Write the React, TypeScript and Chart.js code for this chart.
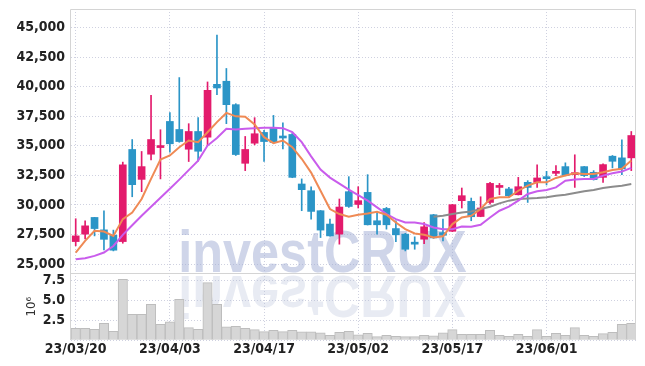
import React, { useEffect, useRef } from 'react';
import { Chart, registerables } from 'chart.js';
Chart.register(...registerables);

const dates = [
  '23/03/20','23/03/21','23/03/22','23/03/23','23/03/24','23/03/27','23/03/28','23/03/29','23/03/30','23/03/31',
  '23/04/03','23/04/04','23/04/05','23/04/06','23/04/07','23/04/10','23/04/11','23/04/12','23/04/13','23/04/14',
  '23/04/17','23/04/18','23/04/19','23/04/20','23/04/21','23/04/24','23/04/25','23/04/26','23/04/27','23/04/28',
  '23/05/02','23/05/03','23/05/04','23/05/08','23/05/09','23/05/10','23/05/11','23/05/12','23/05/15','23/05/16',
  '23/05/17','23/05/18','23/05/19','23/05/22','23/05/23','23/05/24','23/05/25','23/05/26','23/05/30','23/05/31',
  '23/06/01','23/06/02','23/06/05','23/06/07','23/06/08','23/06/09','23/06/12','23/06/13','23/06/14','23/06/15',
];

const opens = [
  26900,27530,28940,27890,27440,26900,34690,32160,34290,34850,
  37060,36380,34710,36210,35730,40200,40460,38480,33520,35220,
  36130,36470,35790,35960,31770,31200,29510,28380,27530,31120,
  30040,31060,28660,29700,28000,27530,26790,27100,29170,27660,
  27770,30360,30300,29020,30210,31480,31350,30860,31910,31910,
  32310,32670,33240,32560,33240,32760,32330,34120,33980,33980,
];
const highs = [
  28830,28660,28950,29500,27870,33620,35530,34520,39270,36360,
  37800,40770,36870,37380,40400,44360,41540,38560,35790,37380,
  36300,37570,36950,36070,32200,31540,29530,28800,30500,32390,
  31540,32560,29450,29790,28660,27600,27300,28510,29200,28800,
  30050,31430,30580,30690,31910,31820,31480,32330,32050,33390,
  32840,33330,33560,34240,33250,32900,33470,34180,35510,36210,
];
const lows = [
  26540,27130,27380,26200,26110,26760,30690,31120,33810,32200,
  34460,35300,33670,33690,35020,39330,36870,34180,32900,35080,
  33670,35240,34740,32300,29510,28800,27240,27350,26680,29790,
  29740,28300,27530,27950,26900,26110,26250,26730,27180,26960,
  27740,29740,28660,29000,30070,30860,30640,30840,30210,31480,
  31690,32480,32460,31480,32400,32100,31910,33130,32560,32900,
];
const closes = [
  27380,28230,28000,27090,26170,33390,31710,33240,35530,34900,
  35170,35360,36210,34540,39690,39890,38480,34260,34690,36020,
  35360,35280,35660,32330,31290,29450,27870,27380,29820,29870,
  30360,28320,28320,28320,27470,26250,26680,28150,27210,27430,
  30020,30780,29000,29740,31820,31630,30780,31540,31480,32280,
  32220,32820,32480,32730,32480,32140,33410,33690,33050,35870,
];
// volume in millions of shares
const volumes = [
  1.5,1.5,1.37,2.12,1.12,7.62,3.25,3.25,4.5,2.0,
  2.29,5.12,1.58,1.37,7.2,4.5,1.66,1.75,1.5,1.33,
  1.08,1.25,1.08,1.25,1.04,1.04,0.91,0.62,1.0,1.12,
  0.66,0.87,0.45,0.62,0.5,0.45,0.45,0.62,0.54,0.91,
  1.33,0.75,0.75,0.75,1.25,0.62,0.5,0.75,0.5,1.33,
  0.5,0.87,0.62,1.58,0.62,0.5,0.83,1.0,2.0,2.12,
];
const ma5 = [
  25970,26960,27810,27750,27380,28800,29360,30500,32200,33840,
  34180,34880,35450,35310,36150,37000,37780,37490,37460,36810,
  35730,35220,35450,34880,33900,32730,31200,29650,29230,29000,
  29170,29280,29420,29170,28510,27950,27580,27470,27240,27340,
  28380,28940,29080,29650,30500,30640,30640,31200,31630,31910,
  31910,32280,32480,32670,32620,32620,32760,32960,33050,33750,
];
const ma20 = [
  25400,25490,25690,25970,26530,27470,28280,29080,29850,30610,
  31370,32140,32940,33750,35020,35660,36440,36380,36440,36490,
  36530,36530,36490,36150,35310,34110,32990,32310,31800,31290,
  30820,30360,29790,29230,28800,28510,28510,28380,28090,27950,
  27950,28170,28150,28320,28940,29510,29850,30360,30920,31150,
  31260,31480,32050,32140,32200,32200,32480,32670,32820,33130,
];
const ma60 = [
  null,null,null,null,null,null,null,null,null,null,
  null,null,null,null,null,null,null,null,null,null,
  null,null,null,null,null,null,null,null,null,null,
  null,null,null,null,null,null,null,null,29000,29080,
  29230,29360,29450,29650,29850,30130,30360,30500,30550,30580,
  30640,30780,30860,31010,31150,31260,31430,31540,31630,31770,
];
const priceTicks = [25000, 27500, 30000, 32500, 35000, 37500, 40000, 42500, 45000];
const volumeTicks = [0, 2.5, 5.0, 7.5];

const FONT = '"Liberation Sans Narrow", "DejaVu Sans Condensed", "Liberation Sans", sans-serif';

const watermark = {
  id: 'watermark',
  beforeDatasetsDraw(chart: any) {
    const ctx = chart.ctx;
    const cx = chart.width / 2;
    const base = chart.scales.y.bottom - 1;
    ctx.save();
    ctx.font = 'bold 60px "Liberation Sans", sans-serif';
    ctx.textAlign = 'center';
    ctx.textBaseline = 'alphabetic';
    ctx.translate(cx, 0);
    ctx.scale(0.84, 1);
    ctx.fillStyle = 'rgba(160,172,212,0.5)';
    ctx.fillText('investCRUX', 0, base);
    ctx.restore();
    ctx.save();
    ctx.font = 'bold 60px "Liberation Sans", sans-serif';
    ctx.textAlign = 'center';
    ctx.translate(cx, base + base + 4);
    ctx.scale(0.84, -1);
    ctx.fillStyle = 'rgba(180,188,215,0.3)';
    ctx.fillText('investCRUX', 0, base);
    ctx.restore();
  },
};

const frame = {
  id: 'frame',
  afterDraw(chart: any) {
    const { ctx, chartArea } = chart;
    const yb = chart.scales.y.bottom;
    ctx.save();
    ctx.strokeStyle = '#d4d4d4';
    ctx.lineWidth = 1;
    ctx.beginPath();
    ctx.moveTo(Math.round(chartArea.left) - 0.5, Math.round(chartArea.bottom));
    ctx.lineTo(Math.round(chartArea.left) - 0.5, Math.round(chartArea.top) + 0.5);
    ctx.lineTo(Math.round(chartArea.right) - 0.5, Math.round(chartArea.top) + 0.5);
    ctx.lineTo(Math.round(chartArea.right) - 0.5, Math.round(chartArea.bottom));
    ctx.moveTo(chartArea.left, Math.round(yb) + 0.5);
    ctx.lineTo(chartArea.right, Math.round(yb) + 0.5);
    ctx.stroke();
    ctx.restore();
  },
};

const fixY = (s: any) => {
  s.width = 63;
  s.paddingTop = 0;
  s.paddingBottom = 0;
};

export default function App() {
  const ref = useRef<HTMLCanvasElement>(null);
  useEffect(() => {
    const up = '#e31b6c';
    const down = '#2b95c7';
    const colors = closes.map((c, i) => (c >= opens[i] ? up : down));
    const gridCol = '#cfd1e0';
    const tickFont = { family: FONT, size: 14, weight: 'bold' as const };
    const chart = new Chart(ref.current as HTMLCanvasElement, {
      type: 'bar',
      data: {
        labels: dates,
        datasets: [
          { type: 'line', data: ma5, borderColor: '#ef8a55', borderWidth: 2, pointRadius: 0, yAxisID: 'y', order: 1 } as any,
          { type: 'line', data: ma20, borderColor: '#c95cec', borderWidth: 2, pointRadius: 0, yAxisID: 'y', order: 2 } as any,
          { type: 'line', data: ma60, borderColor: '#8c8c8c', borderWidth: 2, pointRadius: 0, yAxisID: 'y', order: 2 } as any,
          { data: opens.map((o, i) => [o, closes[i]]), backgroundColor: colors, barThickness: 7, grouped: false, minBarLength: 2, yAxisID: 'y', order: 3 } as any,
          { data: lows.map((l, i) => [l, highs[i]]), backgroundColor: colors, barThickness: 1, grouped: false, yAxisID: 'y', order: 4 } as any,
          { data: volumes, backgroundColor: '#d6d6d6', borderColor: '#bdbdbd', borderWidth: 1, barPercentage: 1, categoryPercentage: 1, grouped: false, yAxisID: 'yv', order: 5 } as any,
        ],
      },
      options: {
        animation: false,
        responsive: true,
        maintainAspectRatio: false,
        layout: { padding: { top: 1, right: 1, left: 0, bottom: 1 } },
        plugins: { legend: { display: false }, tooltip: { enabled: false } },
        scales: {
          x: {
            grid: {
              offset: false,
              drawTicks: false,
              color: (c: any) => (c.index % 10 === 0 ? gridCol : 'rgba(0,0,0,0)'),
            },
            border: { display: false, dash: [1, 2] },
            ticks: {
              autoSkip: false,
              maxRotation: 0,
              padding: 1,
              color: '#222',
              font: tickFont,
              callback: (_v: any, i: number) => (i % 10 === 0 ? dates[i] : ''),
            },
          },
          yv: {
            position: 'left',
            stack: 'main',
            stackWeight: 1,
            min: 0,
            max: 8.41,
            grid: { color: gridCol, drawTicks: false },
            border: { display: false, dash: [1, 2] },
            title: { display: true, text: '10⁶', color: '#333', font: { family: FONT, size: 13 }, padding: { top: 16, bottom: 0 } },
            afterBuildTicks: (s: any) => { s.ticks = volumeTicks.map((v) => ({ value: v })); },
            ticks: {
              autoSkip: false,
              padding: 6,
              color: '#222',
              font: tickFont,
              callback: (v: any) => (Number(v) === 0 ? '' : Number(v).toFixed(1)),
            },
            afterFit: fixY,
          },
          y: {
            position: 'left',
            stack: 'main',
            stackWeight: 3.93,
            min: 24240,
            max: 46570,
            grid: { color: gridCol, drawTicks: false },
            border: { display: false, dash: [1, 2] },
            afterBuildTicks: (s: any) => { s.ticks = priceTicks.map((v) => ({ value: v })); },
            ticks: {
              autoSkip: false,
              padding: 6,
              color: '#222',
              font: tickFont,
              callback: (v: any) => Number(v).toLocaleString('en-US'),
            },
            afterFit: fixY,
          },
        },
      } as any,
      plugins: [watermark, frame],
    });
    return () => chart.destroy();
  }, []);
  return (
    <div style={{ position: 'relative', height: 352 }}>
      <canvas ref={ref} />
    </div>
  );
}
